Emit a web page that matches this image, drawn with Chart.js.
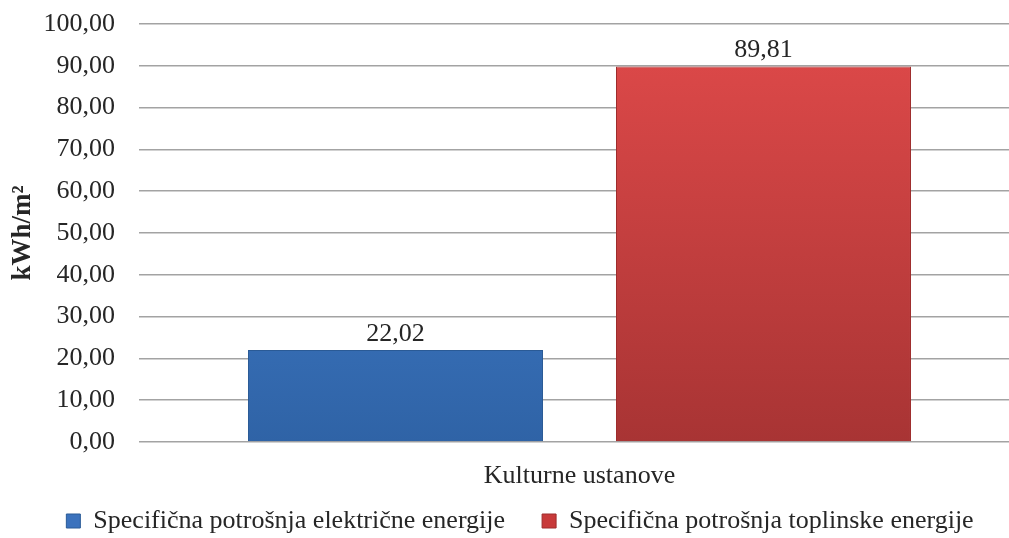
<!DOCTYPE html>
<html lang="hr">
<head>
    <meta charset="UTF-8">
    <title>Specifična potrošnja energije</title>
    <style>
        html, body {
            margin: 0;
            padding: 0;
            background: #fff;
            overflow: hidden;
        }
        .wrap {
            width: 1029px;
            height: 538px;
        }
    </style>
    <script src="https://cdn.jsdelivr.net/npm/chart.js"></script>
</head>
<body>
<div class="wrap"><canvas id="chart" width="1029" height="538"></canvas></div>
<script>
// data
const categories = ['Kulturne ustanove'];
const seriesNames = ['Specifična potrošnja električne energije', 'Specifična potrošnja toplinske energije'];
const electricValues = [22.02];
const heatValues = [89.81];
const yTicks = [0, 10, 20, 30, 40, 50, 60, 70, 80, 90, 100];

const FONT = "'Liberation Serif', 'DejaVu Serif', serif";
const fmt = v => v.toFixed(2).replace('.', ',');

// top/bottom colours of the bar gradients
const blueStops = ['#4887da', '#2f63a6'];
const redStops = ['#e04a4a', '#a83434'];

function barGradient(stops) {
    return function (ctx) {
        const area = ctx.chart.chartArea;
        if (!area) return stops[0];
        const el = ctx.element;
        const top = el && el.y !== undefined ? el.y : area.top;
        const bottom = el && el.base !== undefined ? el.base : area.bottom;
        if (!isFinite(top) || !isFinite(bottom) || top === bottom) return stops[0];
        const g = ctx.chart.ctx.createLinearGradient(0, top, 0, bottom);
        g.addColorStop(0, stops[0]);
        g.addColorStop(1, stops[1]);
        return g;
    };
}

// value labels above the bars
const valueLabels = {
    id: 'valueLabels',
    afterDatasetsDraw(chart) {
        const c = chart.ctx;
        c.save();
        c.font = '26px ' + FONT;
        c.fillStyle = '#262626';
        c.textAlign = 'center';
        c.textBaseline = 'bottom';
        chart.data.datasets.forEach((ds, i) => {
            chart.getDatasetMeta(i).data.forEach((bar, j) => {
                c.fillText(fmt(ds.data[j]), bar.x, bar.y - 3);
            });
        });
        c.restore();
    }
};

new Chart(document.getElementById('chart'), {
    type: 'bar',
    data: {
        labels: categories,
        datasets: [
            {
                label: seriesNames[0],
                data: electricValues,
                backgroundColor: barGradient(blueStops),
                borderColor: '#2a5a96',
                borderWidth: 1,
                legendColor: '#3b72bd'
            },
            {
                label: seriesNames[1],
                data: heatValues,
                backgroundColor: barGradient(redStops),
                borderColor: '#9e2c2c',
                borderWidth: 1,
                legendColor: '#c83a3a'
            }
        ]
    },
    options: {
        responsive: false,
        animation: false,
        categoryPercentage: 0.8354,
        barPercentage: 0.8016,
        layout: { padding: { top: 24, left: 20, right: 9, bottom: -6 } },
        scales: {
            x: {
                grid: { display: false },
                border: { display: false },
                ticks: {
                    color: '#262626',
                    font: { family: FONT, size: 26 },
                    padding: 11
                },
                afterFit: s => { s.height = 55; }
            },
            y: {
                min: 0,
                max: 100,
                afterBuildTicks: s => { s.ticks = yTicks.map(v => ({ value: v })); },
                grid: { color: '#a3a3a3', lineWidth: 1.5, drawTicks: true, tickLength: 24, tickColor: 'rgba(0,0,0,0)' },
                border: { display: false },
                ticks: {
                    color: '#262626',
                    autoSkip: false,
                    font: { family: FONT, size: 26 },
                    padding: 0,
                    callback: v => fmt(v)
                },
                title: {
                    display: true,
                    text: 'kWh/m²',
                    color: '#262626',
                    font: { family: FONT, size: 27, weight: 'bold' },
                    padding: { top: -13, bottom: 0 }
                },
                afterFit: s => { s.width = 119; }
            }
        },
        plugins: {
            legend: {
                position: 'bottom',
                labels: {
                    color: '#262626',
                    font: { family: FONT, size: 26 },
                    boxWidth: 14,
                    boxHeight: 14,
                    padding: 11,
                    generateLabels: chart => chart.data.datasets.map((ds, i) => ({
                        // trailing spaces widen the gap between the two entries
                        text: i === 0 ? ds.label + '\u00a0\u00a0\u00a0\u00a0' : ds.label,
                        fillStyle: ds.legendColor,
                        strokeStyle: ds.borderColor,
                        lineWidth: 1,
                        fontColor: '#262626',
                        datasetIndex: i
                    }))
                }
            },
            tooltip: { enabled: false }
        }
    },
    plugins: [valueLabels]
});
</script>
</body>
</html>
